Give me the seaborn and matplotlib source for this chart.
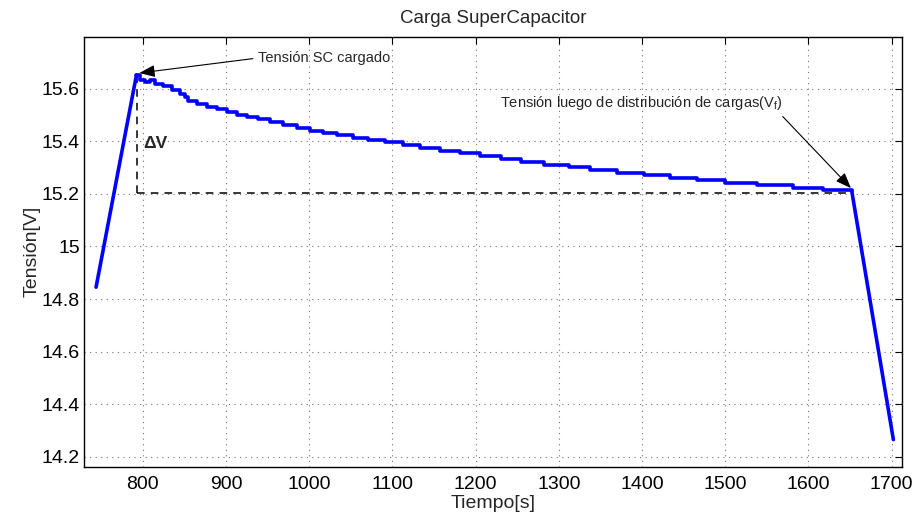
import numpy as np
import pandas as pd
import matplotlib
matplotlib.use("Agg")
import matplotlib.pyplot as plt
import seaborn as sns

# ---- data ----
rise_t = [744, 792.5]
rise_v = [14.845, 15.652]

step_t = [792.5, 797, 803, 809, 815, 825, 835, 845, 851, 855, 865, 877, 889, 901,
          913, 925, 939, 953, 969, 985, 1001, 1017, 1033, 1053, 1071, 1091, 1113,
          1133, 1157, 1181, 1205, 1230, 1254, 1282, 1312, 1338, 1370, 1402, 1434,
          1466, 1500, 1538, 1582, 1618, 1652]
step_v = [15.652, 15.633, 15.624, 15.633, 15.620, 15.611, 15.595, 15.582, 15.570,
          15.553, 15.541, 15.532, 15.522, 15.510, 15.500, 15.491, 15.484, 15.472,
          15.462, 15.452, 15.440, 15.431, 15.424, 15.414, 15.405, 15.396, 15.386,
          15.376, 15.364, 15.354, 15.344, 15.333, 15.320, 15.311, 15.301, 15.290,
          15.281, 15.272, 15.261, 15.251, 15.242, 15.234, 15.223, 15.213, 15.211]

fall_t = [1652, 1702]
fall_v = [15.211, 14.265]

x_ticks = [800, 900, 1000, 1100, 1200, 1300, 1400, 1500, 1600, 1700]
y_ticks = [14.2, 14.4, 14.6, 14.8, 15.0, 15.2, 15.4, 15.6]
y_tick_labels = ["14.2", "14.4", "14.6", "14.8", "15", "15.2", "15.4", "15.6"]

peak_t, peak_v = 793, 15.652
vf_t, vf_v = 1651, 15.205

title = "Carga SuperCapacitor"
xlabel = "Tiempo[s]"
ylabel = "Tensión[V]"
note1 = "Tensión SC cargado"
note2 = r"Tensión luego de distribución de cargas(V$_\mathregular{f}$)"
dv_label = "ΔV"

# ---- style ----
sns.set_style("white")
plt.rcParams["font.family"] = ["Liberation Sans", "DejaVu Sans"]
plt.rcParams["mathtext.fontset"] = "custom"
plt.rcParams["mathtext.rm"] = "Liberation Sans"

fig = plt.figure(figsize=(9.17, 5.19), dpi=100)
ax = fig.add_axes([0.0916, 0.1008, 0.8917, 0.8279])

blue = "#0000ff"
lw = 2.6
sns.lineplot(x=rise_t, y=rise_v, ax=ax, color=blue, linewidth=lw,
             estimator=None, sort=False)
sns.lineplot(x=step_t, y=step_v, ax=ax, color=blue, linewidth=lw,
             estimator=None, sort=False, drawstyle="steps-post")
sns.lineplot(x=fall_t, y=fall_v, ax=ax, color=blue, linewidth=lw,
             estimator=None, sort=False)

# dashed reference lines
ax.plot([peak_t, peak_t], [vf_v, peak_v], color="k", linestyle=(0, (5, 4)), linewidth=1.1, zorder=1)
ax.plot([peak_t, vf_t], [vf_v, vf_v], color="k", linestyle=(0, (5, 4)), linewidth=1.1, zorder=1)

ax.set_xlim(729.5, 1712)
ax.set_ylim(14.162, 15.797)
ax.set_xticks(x_ticks)
ax.set_yticks(y_ticks)
ax.set_yticklabels(y_tick_labels)

ax.grid(True, linestyle=(0, (1, 4)), color="0.45", linewidth=0.8)
ax.tick_params(direction="in", top=True, right=True, length=5, width=0.8,
               labelsize=14, colors="k")
ax.tick_params(axis="x", pad=7)
ax.tick_params(axis="y", pad=3)
for s in ax.spines.values():
    s.set_color("k")
    s.set_linewidth(1.0)

ax.set_title(title, fontsize=13.5, pad=10)
ax.set_xlabel(xlabel, fontsize=14, labelpad=1)
ax.set_ylabel(ylabel, fontsize=14, labelpad=1)

ax.text(801, 15.39, dv_label, fontsize=12.5, fontweight="bold", ha="left", va="center")

ax.annotate(note1, xy=(796, 15.66), xytext=(938, 15.717), fontsize=10.5,
            ha="left", va="center",
            arrowprops=dict(arrowstyle="-|>,head_length=0.9,head_width=0.35", color="k",
                            lw=0.8, relpos=(0, 0.5), shrinkA=1, shrinkB=0))
ax.annotate(note2, xy=(1651, 15.222), xytext=(1399.5, 15.545), fontsize=10.5,
            ha="center", va="center",
            arrowprops=dict(arrowstyle="-|>,head_length=0.9,head_width=0.35", color="k",
                            lw=0.8, relpos=(0.985, 0.0), shrinkA=1, shrinkB=0))

fig.savefig("out.png", dpi=100)
